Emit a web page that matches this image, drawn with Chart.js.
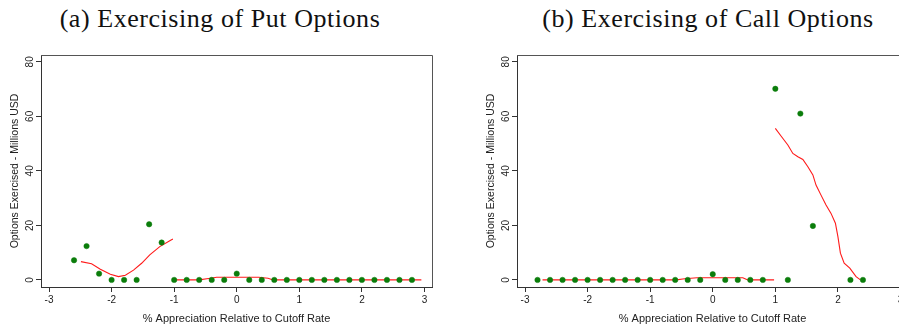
<!DOCTYPE html>
<html>
<head>
<meta charset="utf-8">
<script src="https://cdn.jsdelivr.net/npm/chart.js@4"></script>
<style>
  html, body { margin: 0; padding: 0; background: #fff; }
  #page { position: relative; width: 899px; height: 330px; overflow: hidden; background: #fff; }
  .panel { position: absolute; top: 0; width: 450px; height: 330px; }
  .ttl { position: absolute; top: 6px; font-family: "Liberation Serif", serif; font-size: 26px;
         letter-spacing: 0.55px; line-height: 25px; color: #111; white-space: nowrap;
         transform: translateX(-50%); }
</style>
</head>
<body>
<div id="page">
  <div class="ttl" style="left:220px;">(a) Exercising of Put Options</div>
  <div class="ttl" style="left:708px;">(b) Exercising of Call Options</div>
  <div class="panel" style="left:0px;"><canvas id="putChart"></canvas></div>
  <div class="panel" style="left:476px;"><canvas id="callChart"></canvas></div>
</div>
<script>
// ---- data ----
var xTicks = [-3, -2, -1, 0, 1, 2, 3];
var yTicks = [0, 20, 40, 60, 80];

// put options exercised, by % appreciation bin
var putX = [-2.6, -2.4, -2.2, -2.0, -1.8, -1.6, -1.4, -1.2, -1.0, -0.8, -0.6, -0.4, -0.2, 0,
            0.2, 0.4, 0.6, 0.8, 1.0, 1.2, 1.4, 1.6, 1.8, 2.0, 2.2, 2.4, 2.6, 2.8];
var putY = [7.2, 12.4, 2.3, 0, 0, 0, 20.4, 13.7, 0, 0, 0, 0, 0, 2.3,
            0, 0, 0, 0, 0, 0, 0, 0, 0, 0, 0, 0, 0, 0];

// lowess fit, below and above the cutoff
var putFitLoX = [-2.49, -2.32, -2.18, -2.02, -1.89, -1.78, -1.65, -1.52, -1.39, -1.23, -1.07, -1.02];
var putFitLoY = [6.7, 5.9, 3.9, 2.1, 1.2, 1.7, 3.6, 6.1, 9.2, 12.2, 14.4, 15.0];
var putFitHiX = [-1.0, -0.6, -0.45, -0.32, 0.0, 0.35, 0.5, 0.58, 1.0, 2.0, 2.95];
var putFitHiY = [0, 0, 0.5, 0.95, 1.0, 0.95, 0.6, 0, 0, 0, 0];

// call options exercised
var callX = [-2.8, -2.6, -2.4, -2.2, -2.0, -1.8, -1.6, -1.4, -1.2, -1.0, -0.8, -0.6, -0.4, -0.2,
             0, 0.2, 0.4, 0.6, 0.8, 1.0, 1.2, 1.4, 1.6, 2.2, 2.4];
var callY = [0, 0, 0, 0, 0, 0, 0, 0, 0, 0, 0, 0, 0, 0,
             2.1, 0, 0, 0, 0, 70.1, 0, 61.0, 19.8, 0, 0];

var callFitLoX = [-2.72, -1.0, -0.58, -0.45, -0.25, 0.2, 0.48, 0.56, 0.98];
var callFitLoY = [0, 0, 0, 0.4, 0.8, 0.8, 0.8, 0, 0];
var callFitHiX = [1.0, 1.1, 1.2, 1.28, 1.36, 1.44, 1.52, 1.6, 1.65, 1.73, 1.81, 1.89, 1.96,
                  2.0, 2.04, 2.1, 2.19, 2.29, 2.36];
var callFitHiY = [55.6, 52.5, 49.5, 46.4, 45.2, 44.2, 41.5, 38.5, 34.8, 31.1, 27.5, 24.4, 20.8,
                  15.9, 9.8, 6.1, 4.3, 1.2, 0];

function pts(xs, ys) {
  return xs.map(function (x, i) { return { x: x, y: ys[i] }; });
}

var AXIS_COLOR = "#333";
var TEXT_COLOR = "#222";
var SANS = "'Liberation Sans', Arial, sans-serif";

// box round the plot area plus rotated y tick labels
var framePlugin = {
  id: "frame",
  afterDraw: function (chart) {
    var ctx = chart.ctx;
    var a = chart.chartArea;
    var ys = chart.scales.y;
    ctx.save();
    ctx.strokeStyle = "#555";
    ctx.lineWidth = 1;
    ctx.beginPath();
    ctx.moveTo(a.left, a.top + 0.5);
    ctx.lineTo(a.right + 0.5, a.top + 0.5);
    ctx.lineTo(a.right + 0.5, a.bottom);
    ctx.stroke();
    ctx.fillStyle = TEXT_COLOR;
    ctx.font = "10px " + SANS;
    ctx.textAlign = "center";
    ctx.textBaseline = "middle";
    yTicks.forEach(function (v) {
      var py = ys.getPixelForValue(v);
      ctx.save();
      ctx.translate(a.left - 11, py);
      ctx.rotate(-Math.PI / 2);
      ctx.fillText(String(v), 0, 0);
      ctx.restore();
    });
    ctx.restore();
  }
};

function makeChart(id, scatter, fits) {
  var datasets = [{
    data: scatter,
    showLine: false,
    pointStyle: "circle",
    pointRadius: 2.7,
    pointBackgroundColor: "#0b7d0b",
    pointBorderColor: "#0b7d0b",
    pointBorderWidth: 0.5
  }];
  fits.forEach(function (f) {
    datasets.push({
      data: f,
      showLine: true,
      pointRadius: 0,
      borderColor: "#ff1a1a",
      borderWidth: 1.1,
      tension: 0
    });
  });

  return new Chart(document.getElementById(id).getContext("2d"), {
    type: "scatter",
    data: { datasets: datasets },
    plugins: [framePlugin],
    options: {
      responsive: true,
      maintainAspectRatio: false,
      animation: false,
      layout: { padding: { top: 55, right: 18, left: 0, bottom: 0 } },
      plugins: { legend: { display: false }, tooltip: { enabled: false } },
      scales: {
        x: {
          type: "linear",
          min: -3.128,
          max: 3.12,
          afterFit: function (s) { s.height = 43; },
          afterBuildTicks: function (s) {
            s.ticks = xTicks.map(function (v) { return { value: v }; });
          },
          ticks: {
            color: TEXT_COLOR,
            padding: 2,
            maxRotation: 0,
            font: { family: SANS, size: 10 },
            callback: function (v) { return String(v); }
          },
          grid: { drawOnChartArea: false, tickLength: 5, color: AXIS_COLOR },
          border: { color: AXIS_COLOR, width: 1 },
          title: {
            display: true,
            text: "% Appreciation Relative to Cutoff Rate",
            color: TEXT_COLOR,
            font: { family: SANS, size: 11 },
            padding: { top: 0, bottom: 4 }
          }
        },
        y: {
          type: "linear",
          min: -2.6,
          max: 82.5,
          afterFit: function (s) { s.width = 41; },
          afterBuildTicks: function (s) {
            s.ticks = yTicks.map(function (v) { return { value: v }; });
          },
          ticks: { display: false },
          grid: { drawOnChartArea: false, tickLength: 5, color: AXIS_COLOR },
          border: { color: AXIS_COLOR, width: 1 },
          title: {
            display: true,
            text: "Options Exercised - Millions USD",
            color: TEXT_COLOR,
            font: { family: SANS, size: 10.5 },
            padding: { top: 8.7, bottom: 0 }
          }
        }
      }
    }
  });
}

makeChart("putChart", pts(putX, putY), [pts(putFitLoX, putFitLoY), pts(putFitHiX, putFitHiY)]);
makeChart("callChart", pts(callX, callY), [pts(callFitLoX, callFitLoY), pts(callFitHiX, callFitHiY)]);
</script>
</body>
</html>
